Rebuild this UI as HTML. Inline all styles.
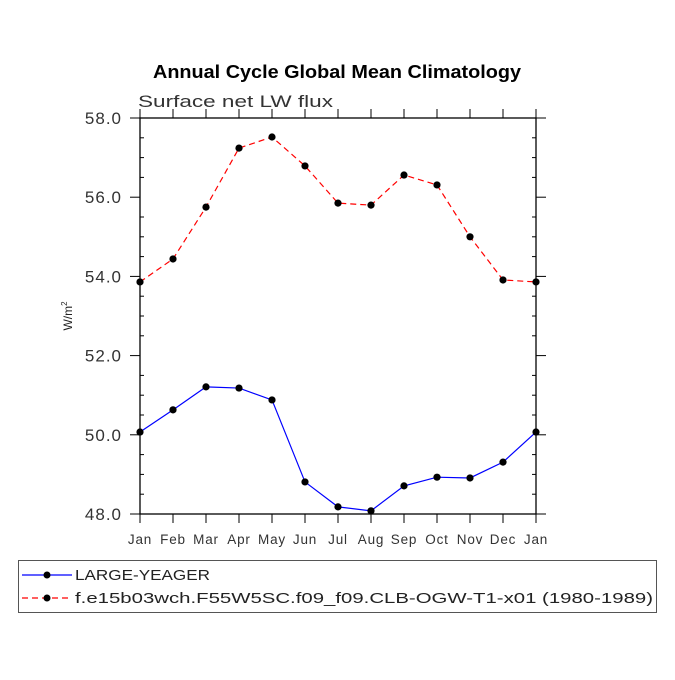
<!DOCTYPE html>
<html><head><meta charset="utf-8"><style>
body{margin:0;background:#fff}
svg text{font-family:"Liberation Sans","DejaVu Sans",sans-serif}
</style></head><body>
<svg id="chart" width="675" height="675" viewBox="0 0 675 675">
<text x="153" y="78" textLength="368" lengthAdjust="spacingAndGlyphs" font-size="18" font-weight="bold">Annual Cycle Global Mean Climatology</text>
<text x="138" y="107" font-size="17" fill="#333" textLength="195" lengthAdjust="spacingAndGlyphs">Surface net LW flux</text>
<text transform="translate(72,316) rotate(-90)" text-anchor="middle" font-size="12" fill="#222">W/m<tspan dy="-5" font-size="8">2</tspan></text>
<g id="axes"></g>
<g id="series"></g>
<g>
<rect x="18.5" y="560.5" width="638" height="52" fill="none" stroke="#555" stroke-width="1"/>
<line x1="22" y1="575" x2="72" y2="575" stroke="#00f" stroke-width="1.2"/>
<circle cx="47" cy="575" r="3.5" fill="#000"/>
<text x="75" y="580" font-size="15" fill="#222" textLength="135" lengthAdjust="spacingAndGlyphs">LARGE-YEAGER</text>
<line x1="22" y1="598" x2="72" y2="598" stroke="#f00" stroke-width="1.2" stroke-dasharray="6,4"/>
<circle cx="47" cy="598" r="3.5" fill="#000"/>
<text x="75" y="603" font-size="15" fill="#222" textLength="578" lengthAdjust="spacingAndGlyphs">f.e15b03wch.F55W5SC.f09_f09.CLB-OGW-T1-x01 (1980-1989)</text>
</g>
</svg>
<script>
const months=["Jan","Feb","Mar","Apr","May","Jun","Jul","Aug","Sep","Oct","Nov","Dec","Jan"];
const redValues=[53.86,54.44,55.75,57.24,57.52,56.79,55.85,55.80,56.56,56.31,55.00,53.91,53.86];
const blueValues=[50.07,50.63,51.21,51.18,50.88,48.81,48.18,48.08,48.71,48.93,48.91,49.31,50.07];
const yTicks=[48,50,52,54,56,58];
const yTickLabels=["48.0","50.0","52.0","54.0","56.0","58.0"];
const L=140,R=536,T=118,B=514,yMin=48,yMax=58;
const xs=i=>L+(R-L)*i/(months.length-1);
const ys=v=>B-(v-yMin)/(yMax-yMin)*(B-T);
const NS="http://www.w3.org/2000/svg";
function mk(tag,attrs,parent){const e=document.createElementNS(NS,tag);for(const k in attrs)e.setAttribute(k,attrs[k]);parent.appendChild(e);return e;}
const axes=document.getElementById('axes');
let fr=mk('rect',{x:L,y:T,width:R-L,height:B-T,fill:'none',stroke:'#000','stroke-width':1.3},axes);


months.forEach((m,i)=>{
  const x=xs(i);
  let t=mk('line',{x1:x,y1:B,x2:x,y2:B+9,stroke:'#000'},axes);
  
  
  let t2=mk('line',{x1:x,y1:T,x2:x,y2:T-9,stroke:'#000'},axes);
  
  
  let lb=mk('text',{x:x,y:B+30,'text-anchor':'middle','font-size':13.5,fill:'#333','letter-spacing':'0.8'},axes);
  lb.textContent=m;
  
  
});
for(let v=yMin;v<=yMax+1e-9;v+=0.5){
  const y=ys(v);const major=Math.abs(v-Math.round(v/2)*2)<1e-9;
  let a=mk('line',major?{x1:L-10,y1:y,x2:L,y2:y,stroke:'#000'}:{x1:L,y1:y,x2:L+4,y2:y,stroke:'#000'},axes);
  
  
  let b=mk('line',major?{x1:R,y1:y,x2:R+10,y2:y,stroke:'#000'}:{x1:R-4,y1:y,x2:R,y2:y,stroke:'#000'},axes);
  
  
}
yTicks.forEach((v,i)=>{
  let lb=mk('text',{x:L-18,y:ys(v)+6,'text-anchor':'end','font-size':17,fill:'#333','letter-spacing':'1'},axes);
  lb.textContent=yTickLabels[i];
  
  
});
const ser=document.getElementById('series');
function drawSeries(vals,color,dash,name){
  let p=mk('polyline',{points:vals.map((v,i)=>xs(i)+','+ys(v)).join(' '),fill:'none',stroke:color,'stroke-width':1.2,'stroke-dasharray':dash},ser);
  
  
  vals.forEach((v,i)=>{
    let c=mk('circle',{cx:xs(i),cy:ys(v),r:3.6,fill:'#000'},ser);
    
    
  });
}
drawSeries(blueValues,'#00f','none','large-yeager');
drawSeries(redValues,'#f00','6,4','f09');
</script>
</body></html>
